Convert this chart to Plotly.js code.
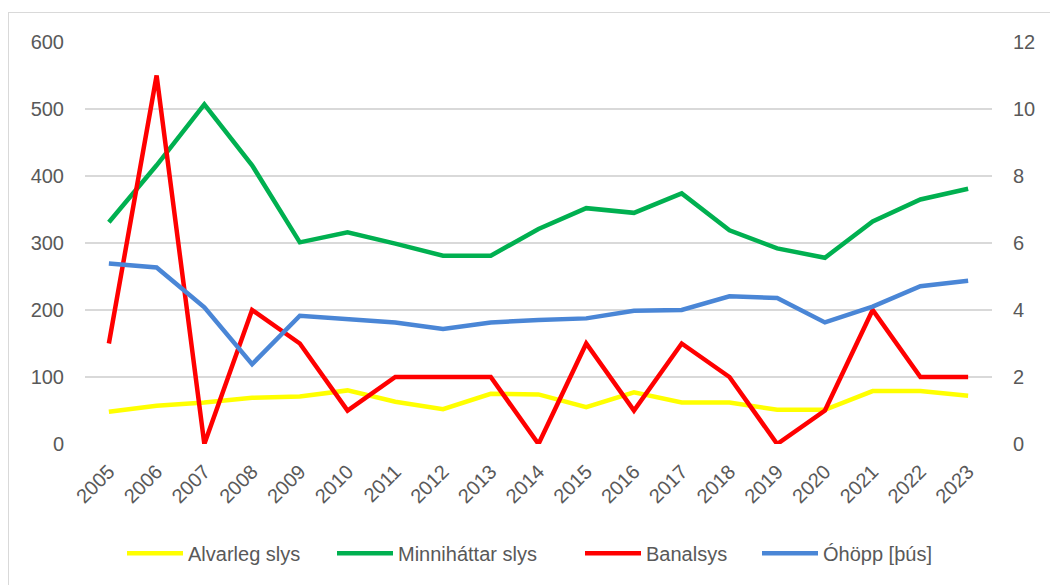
<!DOCTYPE html>
<html>
<head>
<meta charset="utf-8">
<script src="https://cdn.plot.ly/plotly-3.0.1.min.js"></script>
<style>
  html, body { margin: 0; padding: 0; background: #fff; }
  #frame { position: absolute; left: 8px; top: 12px; width: 1060px; height: 580px; border: 1px solid #d9d9d9; box-sizing: border-box; pointer-events: none; }
  #chart { position: absolute; left: 0; top: 0; width: 1050px; height: 585px; }
</style>
</head>
<body>
<div id="frame"></div>
<div id="chart"></div>
<script>
const years = ["2005","2006","2007","2008","2009","2010","2011","2012","2013","2014","2015","2016","2017","2018","2019","2020","2021","2022","2023"];
const alvarleg = [48, 57, 62, 69, 71, 80, 63, 52, 75, 74, 55, 77, 62, 62, 51, 51, 79, 79, 72];
const minnihattar = [331, 416, 507, 416, 301, 316, 299, 281, 281, 321, 352, 345, 374, 319, 292, 278, 332, 365, 381];
const banalsys = [3, 11, 0, 4, 3, 1, 2, 2, 2, 0, 3, 1, 3, 2, 0, 1, 4, 2, 2];
const ohopp = [5.39, 5.27, 4.08, 2.38, 3.83, 3.74, 3.63, 3.43, 3.63, 3.70, 3.75, 3.98, 4.00, 4.41, 4.36, 3.63, 4.10, 4.71, 4.87];

const leftTicks = [0, 100, 200, 300, 400, 500, 600];
const rightTicks = [0, 2, 4, 6, 8, 10, 12];

const lw = 4.5;
const traces = [
  {x: years, y: alvarleg, name: "Alvarleg slys", type: "scatter", mode: "lines", line: {color: "#FFFF00", width: lw}, yaxis: "y", legend: "legend"},
  {x: years, y: minnihattar, name: "Minniháttar slys", type: "scatter", mode: "lines", line: {color: "#00B050", width: lw}, yaxis: "y", legend: "legend2"},
  {x: years, y: banalsys, name: "Banalsys", type: "scatter", mode: "lines", line: {color: "#FF0000", width: lw}, yaxis: "y2", legend: "legend3"},
  {x: years, y: ohopp, name: "Óhöpp [þús]", type: "scatter", mode: "lines", line: {color: "#4A86D6", width: lw}, yaxis: "y2", legend: "legend4"}
];

const tickFont = {family: "Liberation Sans, Arial, sans-serif", size: 20, color: "#595959"};
const xFont = {family: "Liberation Sans, Arial, sans-serif", size: 20, color: "#595959"};
const legFont = {family: "Liberation Sans, Arial, sans-serif", size: 20, color: "#595959"};

function leg(px) {
  return {orientation: "h", x: (px - 85) / 907, xanchor: "left", y: -0.272, yanchor: "middle",
          font: legFont, itemwidth: 56, bgcolor: "rgba(0,0,0,0)", borderwidth: 0};
}

const layout = {
  width: 1050, height: 585,
  margin: {l: 85, r: 58, t: 42, b: 141},
  paper_bgcolor: "rgba(0,0,0,0)",
  plot_bgcolor: "rgba(0,0,0,0)",
  showlegend: true,
  legend: leg(122),
  legend2: leg(332),
  legend3: leg(580),
  legend4: leg(757),
  xaxis: {
    type: "category", range: [-0.5, 18.5], tickangle: -45, tickfont: xFont,
    showgrid: false, zeroline: false, showline: false, ticks: "", fixedrange: true,
    ticklabelstandoff: 11
  },
  yaxis: {
    range: [0, 600], tickvals: leftTicks, ticktext: leftTicks.map(String), tickfont: tickFont,
    showgrid: true, gridcolor: "#d9d9d9", gridwidth: 1.5, zeroline: false, showline: false, ticks: "",
    ticklabelstandoff: 20
  },
  yaxis2: {
    overlaying: "y", side: "right", range: [0, 12], tickvals: rightTicks, ticktext: rightTicks.map(String), tickfont: tickFont,
    showgrid: false, zeroline: false, showline: false, ticks: "", ticklabelstandoff: 20
  }
};

Plotly.newPlot("chart", traces, layout, {staticPlot: true, displayModeBar: false});
</script>
</body>
</html>
